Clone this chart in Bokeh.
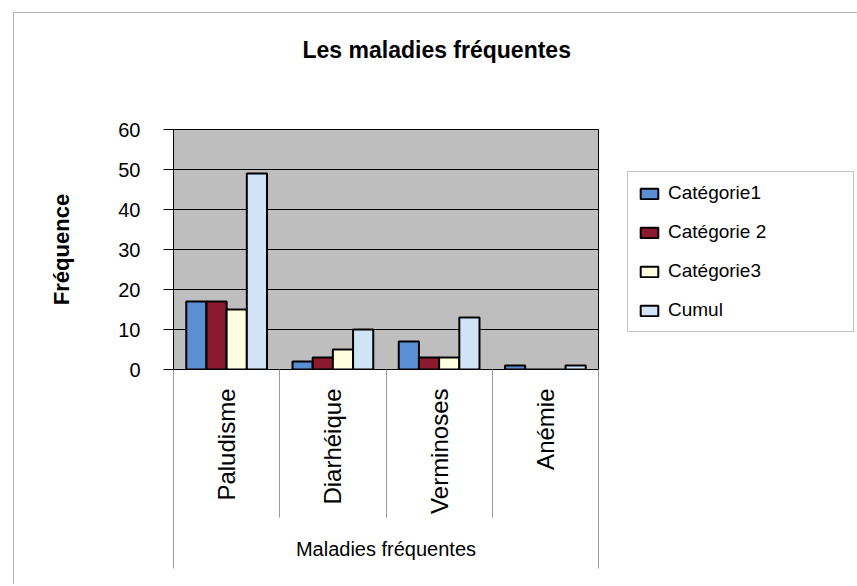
import math
from bokeh.plotting import figure
from bokeh.models import Range1d, FixedTicker, LinearAxis, Legend, LegendItem, Grid, Title
from bokeh.embed import file_html
from bokeh.resources import INLINE

# ---- data ----
categories = ["Paludisme", "Diarhéique", "Verminoses", "Anémie"]
series_names = ["Catégorie1", "Catégorie 2", "Catégorie3", "Cumul"]
cat1 = [17, 2, 7, 1]
cat2 = [17, 3, 3, 0]
cat3 = [15, 5, 3, 0]
cumul = [49, 10, 13, 1]
y_ticks = [0, 10, 20, 30, 40, 50, 60]
colors = ["#5b8fd4", "#8c1a2e", "#ffffe0", "#d0e4f5"]

series = [cat1, cat2, cat3, cumul]
FONT = "Liberation Sans"

p = figure(frame_width=425, frame_height=240,
           x_range=Range1d(0, len(categories)), y_range=Range1d(0, 60),
           x_axis_location=None, y_axis_location=None, title_location=None,
           output_backend="svg", toolbar_location=None,
           min_border_left=173, min_border_right=257,
           min_border_top=129, min_border_bottom=215)
p.grid.visible = False
p.background_fill_color = "#bebebe"
p.border_fill_color = None
p.outline_line_color = "black"
p.outline_line_width = 1
p.styles = {
    "background": "linear-gradient(#b0b0b0,#b0b0b0) 13px 12px / calc(100% - 13px) 1px no-repeat, "
                  "linear-gradient(#b0b0b0,#b0b0b0) 13px 12px / 1px calc(100% - 12px) no-repeat, white"
}

# spacer between frame and title, then the title itself (stacked upward)
p.add_layout(Title(text=" ", text_font_size="1px", standoff=64), "above")
p.add_layout(Title(text="Les maladies fréquentes", text_font=FONT, text_font_size="23px",
                   text_font_style="bold", text_color="black", align="left",
                   offset=129, standoff=0), "above")

# grid
p.add_layout(Grid(dimension=1, ticker=FixedTicker(ticks=y_ticks[1:-1]),
                  grid_line_color="black", grid_line_width=1))

# bars
w = 0.19
offsets = [-1.5 * w, -0.5 * w, 0.5 * w, 1.5 * w]
centers = [i + 0.5 for i in range(len(categories))]
items = []
for name, vals, col, off in zip(series_names, series, colors, offsets):
    r = p.vbar(x=[c + off for c in centers], top=vals, bottom=0, width=w,
               fill_color=col, line_color="black", line_width=2)
    items.append(LegendItem(label=name, renderers=[r]))

# y axis
ya = LinearAxis(ticker=FixedTicker(ticks=y_ticks),
                major_tick_out=10, major_tick_in=0, minor_tick_out=0, minor_tick_in=0,
                axis_line_color="black", major_tick_line_color="black",
                major_label_text_font=FONT, major_label_text_font_size="20px",
                major_label_text_color="black", major_label_standoff=23,
                axis_label="Fréquence", axis_label_text_font=FONT,
                axis_label_text_font_size="22px", axis_label_text_font_style="bold",
                axis_label_text_color="black", axis_label_standoff=41)
p.add_layout(ya, "left")

# x axis (category labels + separators)
xa = LinearAxis(ticker=FixedTicker(ticks=centers, minor_ticks=list(range(len(categories) + 1))),
                major_label_overrides={c: n for c, n in zip(centers, categories)},
                major_label_orientation=math.pi / 2,
                major_tick_out=0, major_tick_in=0,
                minor_tick_out=148, minor_tick_in=0,
                minor_tick_line_color="#9a9a9a",
                axis_line_color="black",
                major_label_text_font=FONT, major_label_text_font_size="24px",
                major_label_text_color="black", major_label_standoff=-129)
p.add_layout(xa, "below")

# second x axis for outer separators and axis title
xa2 = LinearAxis(ticker=FixedTicker(ticks=[], minor_ticks=[0, len(categories)]),
                 axis_line_color=None, major_tick_out=0, major_tick_in=0,
                 minor_tick_out=52, minor_tick_in=0, minor_tick_line_color="#9a9a9a",
                 major_label_text_font_size="0px",
                 axis_label="Maladies fréquentes", axis_label_text_font=FONT,
                 axis_label_text_font_size="20px", axis_label_text_font_style="normal",
                 axis_label_text_color="black", axis_label_standoff=-31)
p.add_layout(xa2, "below")

# legend
legend = Legend(items=items, location=(29, 37), margin=16,
                glyph_width=22, glyph_height=13, label_height=21,
                label_width=175, label_standoff=8, spacing=17, padding=10,
                label_text_font=FONT, label_text_font_size="19px",
                label_text_color="black",
                border_line_color="#8a8a8a", border_line_width=1,
                background_fill_color="white", background_fill_alpha=1.0)
p.add_layout(legend, "right")

open("out.html", "w").write(file_html(p, INLINE))
